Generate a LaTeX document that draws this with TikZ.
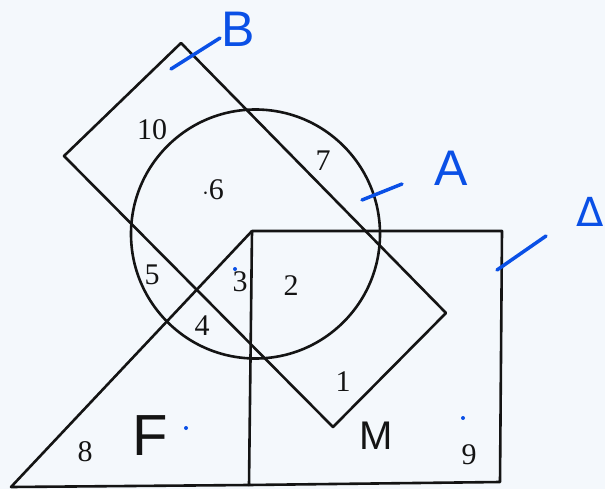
\documentclass[tikz,border=0pt]{standalone}
\usepackage{fontspec}
\setmainfont{Liberation Serif}
\newfontfamily\handfont{Liberation Sans}
\newfontfamily\symfont{DejaVu Sans}
\definecolor{ink}{RGB}{20,20,20}
\definecolor{pen}{RGB}{10,80,230}
\definecolor{paper}{RGB}{244,248,252}
\begin{document}
\begin{tikzpicture}[x=1pt,y=-1pt,
  shape line/.style={draw=ink,line width=2.6pt,line join=round},
  num/.style={font=\fontsize{30}{33}\selectfont,text=ink,inner sep=0pt},
  hand/.style={font=\handfont\fontsize{50}{54}\selectfont,inner sep=0pt},
  tick/.style={draw=pen,line width=3.5pt,line cap=round}]
\useasboundingbox (0,0) rectangle (605,489);
\fill[paper] (0,0) rectangle (605,489);
% rotated rectangle B
\coordinate (bt) at (181,43);
\coordinate (bl) at (64,156);
\coordinate (bb) at (333,427);
\coordinate (br) at (446,313);
\draw[shape line] (bt) -- (bl) -- (bb) -- (br) -- cycle;
% circle A
\coordinate (ac) at (255.5,234);
\draw[shape line] (ac) circle[radius=124.5];
% square M
\coordinate (mtl) at (252,231);
\coordinate (mtr) at (502,231);
\coordinate (mbr) at (500,482);
\coordinate (mbl) at (249,485);
\draw[shape line] (mtl) -- (mtr) -- (mbr) -- (mbl) -- cycle;
% triangle F
\coordinate (fbl) at (11,487);
\draw[shape line] (mtl) -- (fbl) -- (mbl);
% region numbers
\node[num] (n10) at (152,130) {10};
\node[num] (n7) at (323,161) {7};
\node[num] (n6) at (213,190) {$\cdot$6};
\node[num] (n5) at (152,275) {5};
\node[num] (n3) at (240,282) {3};
\node[num] (n2) at (291,286) {2};
\node[num] (n4) at (202,326) {4};
\node[num] (n1) at (343,382) {1};
\node[num] (n8) at (85,452) {8};
\node[num] (n9) at (469,455) {9};
% handwritten labels
\node[hand,text=ink,font=\handfont\fontsize{58}{60}\selectfont] (lf) at (150,436) {F};
\node[hand,text=ink,font=\handfont\fontsize{40}{44}\selectfont] (lm) at (376,436) {M};
\node[hand,text=pen] (lb) at (238,29) {B};
\node[hand,text=pen] (la) at (451,168) {A};
\node[hand,text=pen,font=\symfont\fontsize{40}{44}\selectfont,anchor=east] (ld) at (604,212) {Δ};
% ticks
\coordinate (tb1) at (171,69); \coordinate (tb2) at (220,38);
\coordinate (ta1) at (362,200); \coordinate (ta2) at (402,184);
\coordinate (td1) at (497,270); \coordinate (td2) at (546,236);
\draw[tick] (tb1) -- (tb2);
\draw[tick] (ta1) -- (ta2);
\draw[tick] (td1) -- (td2);
% dots
\fill[pen] (186,428) circle[radius=2];
\fill[pen] (463,418) circle[radius=2];
\fill[pen] (235,269) circle[radius=2];
\end{tikzpicture}
\end{document}
